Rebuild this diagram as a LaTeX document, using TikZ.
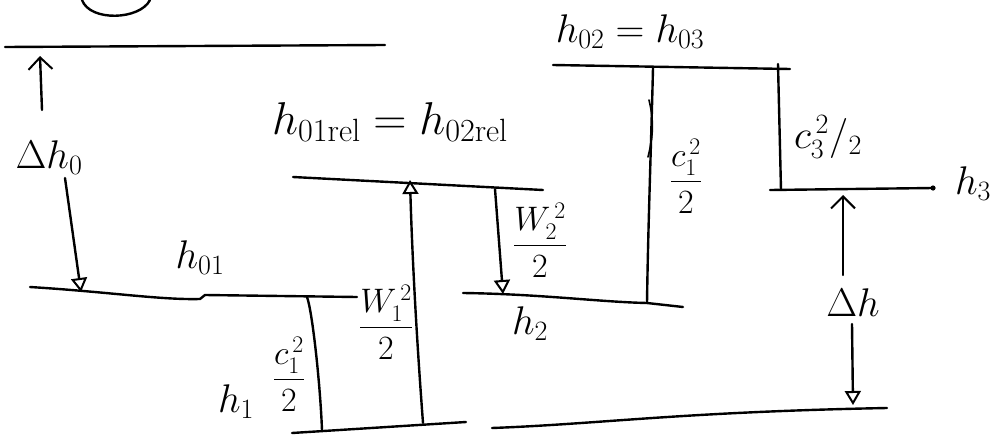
\RequirePackage{fix-cm}
\documentclass[tikz,border=0pt]{standalone}
\usetikzlibrary{arrows.meta}
\newcommand{\myfrac}[2]{\displaystyle\frac{#1}{#2}}
\begin{document}
\begin{tikzpicture}[x=1pt,y=-1pt, line width=2.4pt, line cap=round, line join=round,
  lab/.style={inner sep=0pt, font=\fontsize{40}{44}\selectfont},
  biglab/.style={inner sep=0pt, font=\fontsize{46}{50}\selectfont},
  flab/.style={inner sep=0pt, font=\fontsize{34}{38}\selectfont},
  vtip/.style={-{Straight Barb[length=12pt,width=24pt,line width=2pt]}},
  ttip/.style={-{Triangle[open,length=14pt,width=16pt,line width=2pt]}}]
\useasboundingbox (0,0) rectangle (1004,439);

% partial circle at top
\coordinate (ca) at (82,0);
\coordinate (cb) at (150,0);
\draw (ca) .. controls (90,22) and (140,20) .. (cb);

% top level (h0 inlet)
\coordinate (t0l) at (5,47);
\coordinate (t0r) at (385,45);
\draw (t0l) -- (t0r);

% delta h0 arrows
\coordinate (dh0a) at (42,110);
\coordinate (dh0b) at (40,56);
\draw[vtip] (dh0a) -- (dh0b);
\node[lab] (dh0) at (49,158) {$\Delta h_0$};
\coordinate (dh0c) at (65,178);
\coordinate (dh0d) at (81,292);
\draw[ttip] (dh0c) -- (dh0d);

% h01 level
\coordinate (h01l) at (30,287);
\coordinate (h01m) at (200,299);
\coordinate (h01n) at (205,295);
\coordinate (h01k) at (307,297);
\coordinate (h01r) at (357,297);
\draw (h01l) .. controls (110,292) and (160,300) .. (h01m) -- (h01n) -- (h01r);
\node[lab] (h01) at (200,258) {$h_{01}$};

% c1 vertical (left)
\coordinate (c1b) at (322,430);
\draw (h01k) .. controls (312,310) and (320,380) .. (c1b);
\node[flab] (c1l) at (289,374) {$\myfrac{c_1^{\,2}}{2}$};
\node[lab] (h1) at (236,402) {$h_1$};

% bottom level 1
\coordinate (b1l) at (292,433);
\coordinate (b1r) at (466,422);
\draw (b1l) -- (b1r);

% W1 arrow
\coordinate (w1b) at (423,423);
\coordinate (w1t) at (410,180);
\draw[ttip] (w1b) .. controls (416,330) and (412,250) .. (w1t);
\node[flab] (w1l) at (386,322) {$\myfrac{W_1^{\,2}}{2}$};

% h01rel level
\coordinate (rl) at (293,177);
\coordinate (rr) at (543,190);
\draw (rl) -- (rr);
\node[biglab] (rel) at (390,122) {$h_{01\mathrm{rel}} = h_{02\mathrm{rel}}$};

% W2 arrow
\coordinate (w2t) at (495,189);
\coordinate (w2b) at (503,294);
\draw[ttip] (w2t) -- (w2b);
\node[flab] (w2l) at (540,240) {$\myfrac{W_2^{\,2}}{2}$};

% h2 level
\coordinate (h2l) at (463,293);
\coordinate (h2k) at (647,303);
\coordinate (h2r) at (683,307);
\draw (h2l) .. controls (540,294) and (600,302) .. (h2k) -- (h2r);
\node[lab] (h2) at (530,324) {$h_2$};

% c1 vertical (right)
\coordinate (c2t) at (653,68);
\draw (c2t) .. controls (651,150) and (648,230) .. (h2k);
\draw[line width=1.6pt] (649,100) .. controls (655,125) and (652,140) .. (648,157);
\node[flab] (c1r) at (686,176) {$\myfrac{c_1^{\,2}}{2}$};

% h02 level
\coordinate (h02l) at (553,65);
\coordinate (h02r) at (790,69);
\draw (h02l) -- (h02r);
\node[lab] (h02) at (630,32) {$h_{02} = h_{03}$};

% c3 vertical
\coordinate (c3t) at (778,64);
\coordinate (c3b) at (781,190);
\draw (c3t) -- (c3b);
\node[lab] (c3l) at (828,137) {$c_3^{\,2}/_2$};

% h3 level
\coordinate (h3l) at (770,190);
\coordinate (h3r) at (933,188);
\draw (h3l) -- (h3r);
\fill (h3r) circle (2.6pt);
\node[lab] (h3) at (973,184) {$h_3$};

% delta h arrows
\coordinate (dha) at (843,275);
\coordinate (dhb) at (843,195);
\draw[vtip] (dha) -- (dhb);
\node[lab] (dh) at (853,303) {$\Delta h$};
\coordinate (dhc) at (852,324);
\coordinate (dhd) at (853,405);
\draw[ttip] (dhc) -- (dhd);

% bottom level right
\coordinate (b2l) at (492,428);
\coordinate (b2r) at (887,408);
\draw (b2l) .. controls (600,424) and (680,412) .. (b2r);
\end{tikzpicture}
\end{document}
